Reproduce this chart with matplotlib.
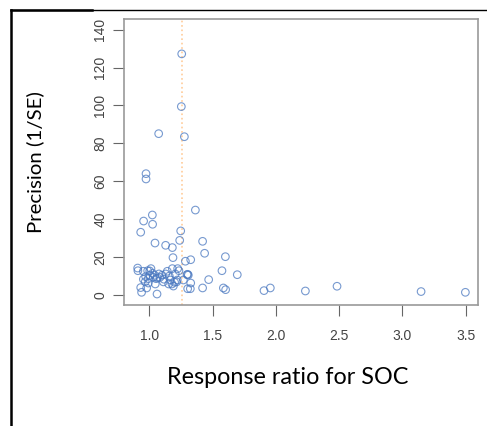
import numpy as np
import matplotlib.pyplot as plt
from matplotlib.lines import Line2D

# response ratio (x) and precision 1/SE (y)
rr = [1.256, 1.253, 1.277, 1.074, 0.974, 0.974, 1.364, 1.024, 0.955, 1.026,
      0.932, 1.248, 1.240, 1.421, 1.045, 1.129, 1.182, 1.437, 1.187, 1.601,
      1.327, 1.285, 1.695, 1.574, 1.469, 1.421, 1.585, 1.603, 1.906, 1.956,
      2.233, 2.483, 3.147, 3.497, 1.303, 1.324, 1.327, 1.298, 1.308, 1.303,
      0.908, 0.910, 0.932, 0.939, 1.061, 0.979, 0.992, 0.953, 0.971, 0.987,
      1.003, 1.013, 1.026, 1.042, 1.047, 1.063, 1.076, 1.100, 1.116, 1.129,
      1.142, 1.153, 1.166, 1.182, 1.190, 1.200, 1.216, 1.224, 1.234, 1.221,
      1.205, 0.953, 0.968, 0.992, 1.005, 1.032, 1.053, 1.084, 1.111, 1.158,
      1.179, 1.269]
prec = [127.2, 99.4, 83.5, 85.1, 64.0, 61.2, 44.8, 42.2, 39.0, 37.3,
        33.1, 33.8, 28.8, 28.3, 27.4, 26.2, 25.0, 22.0, 19.7, 20.2,
        18.6, 17.8, 10.7, 12.8, 8.1, 3.7, 3.7, 2.8, 2.3, 3.7,
        2.1, 4.6, 1.8, 1.4, 3.3, 3.3, 6.3, 10.7, 10.5, 10.9,
        14.2, 12.8, 3.9, 1.4, 0.5, 3.7, 6.3, 8.3, 9.7, 12.8,
        12.7, 13.9, 11.4, 10.4, 5.8, 9.0, 11.1, 10.4, 8.3, 11.1,
        12.5, 5.8, 7.9, 13.9, 4.7, 6.7, 6.9, 13.9, 12.8, 7.9,
        11.1, 12.5, 7.0, 8.6, 10.4, 9.3, 8.6, 9.3, 6.9, 10.0,
        5.8, 7.9]
mean_rr = 1.26
xticks = [1.0, 1.5, 2.0, 2.5, 3.0, 3.5]
yticks = [0, 20, 40, 60, 80, 100, 120, 140]

fig = plt.figure(figsize=(4.87, 4.26), dpi=100)
ax = fig.add_axes([0.2546, 0.284, 0.727, 0.6714])

ax.scatter(rr, prec, s=30, facecolors='none', edgecolors='#4a78c0',
           linewidths=0.8, alpha=0.75, zorder=3)
ax.axvline(mean_rr, color='#ffcc99', linestyle=':', linewidth=1.2, zorder=2)

ax.set_xlim(0.8, 3.597)
ax.set_ylim(-5.3, 145.6)
ax.set_xticks(xticks)
ax.set_xticklabels([f"{t:.1f}" for t in xticks])
ax.set_yticks(yticks)
ax.set_yticklabels([str(t) for t in yticks], rotation=90, va='center')

for s in ax.spines.values():
    s.set_color('#999999')
    s.set_linewidth(1.2)
ax.tick_params(colors='#666666', labelcolor='#444444', length=8, width=0.8,
               labelsize=10)
ax.tick_params(axis='x', pad=9)
ax.tick_params(axis='y', pad=4)
for lbl in ax.get_xticklabels() + ax.get_yticklabels():
    lbl.set_family('Liberation Sans')

fig.text(0.072, 0.62, 'Precision (1/SE)', rotation=90, ha='center', va='center',
         fontsize=14.7, family='Lato')
fig.text(0.59, 0.113, 'Response ratio for SOC', ha='center', va='center',
         fontsize=16.8, family='Lato')

# frame lines around the pasted figure
fig.add_artist(Line2D([0.0226, 1.0], [0.9765, 0.9765], color='black', linewidth=1.0,
                      transform=fig.transFigure))
fig.add_artist(Line2D([0.0226, 0.189], [0.9765, 0.9765], color='black', linewidth=1.8,
                      transform=fig.transFigure))
fig.add_artist(Line2D([0.0226, 0.0226], [0.0, 0.9765], color='black', linewidth=1.8,
                      transform=fig.transFigure))

fig.savefig('out.png', dpi=100)
